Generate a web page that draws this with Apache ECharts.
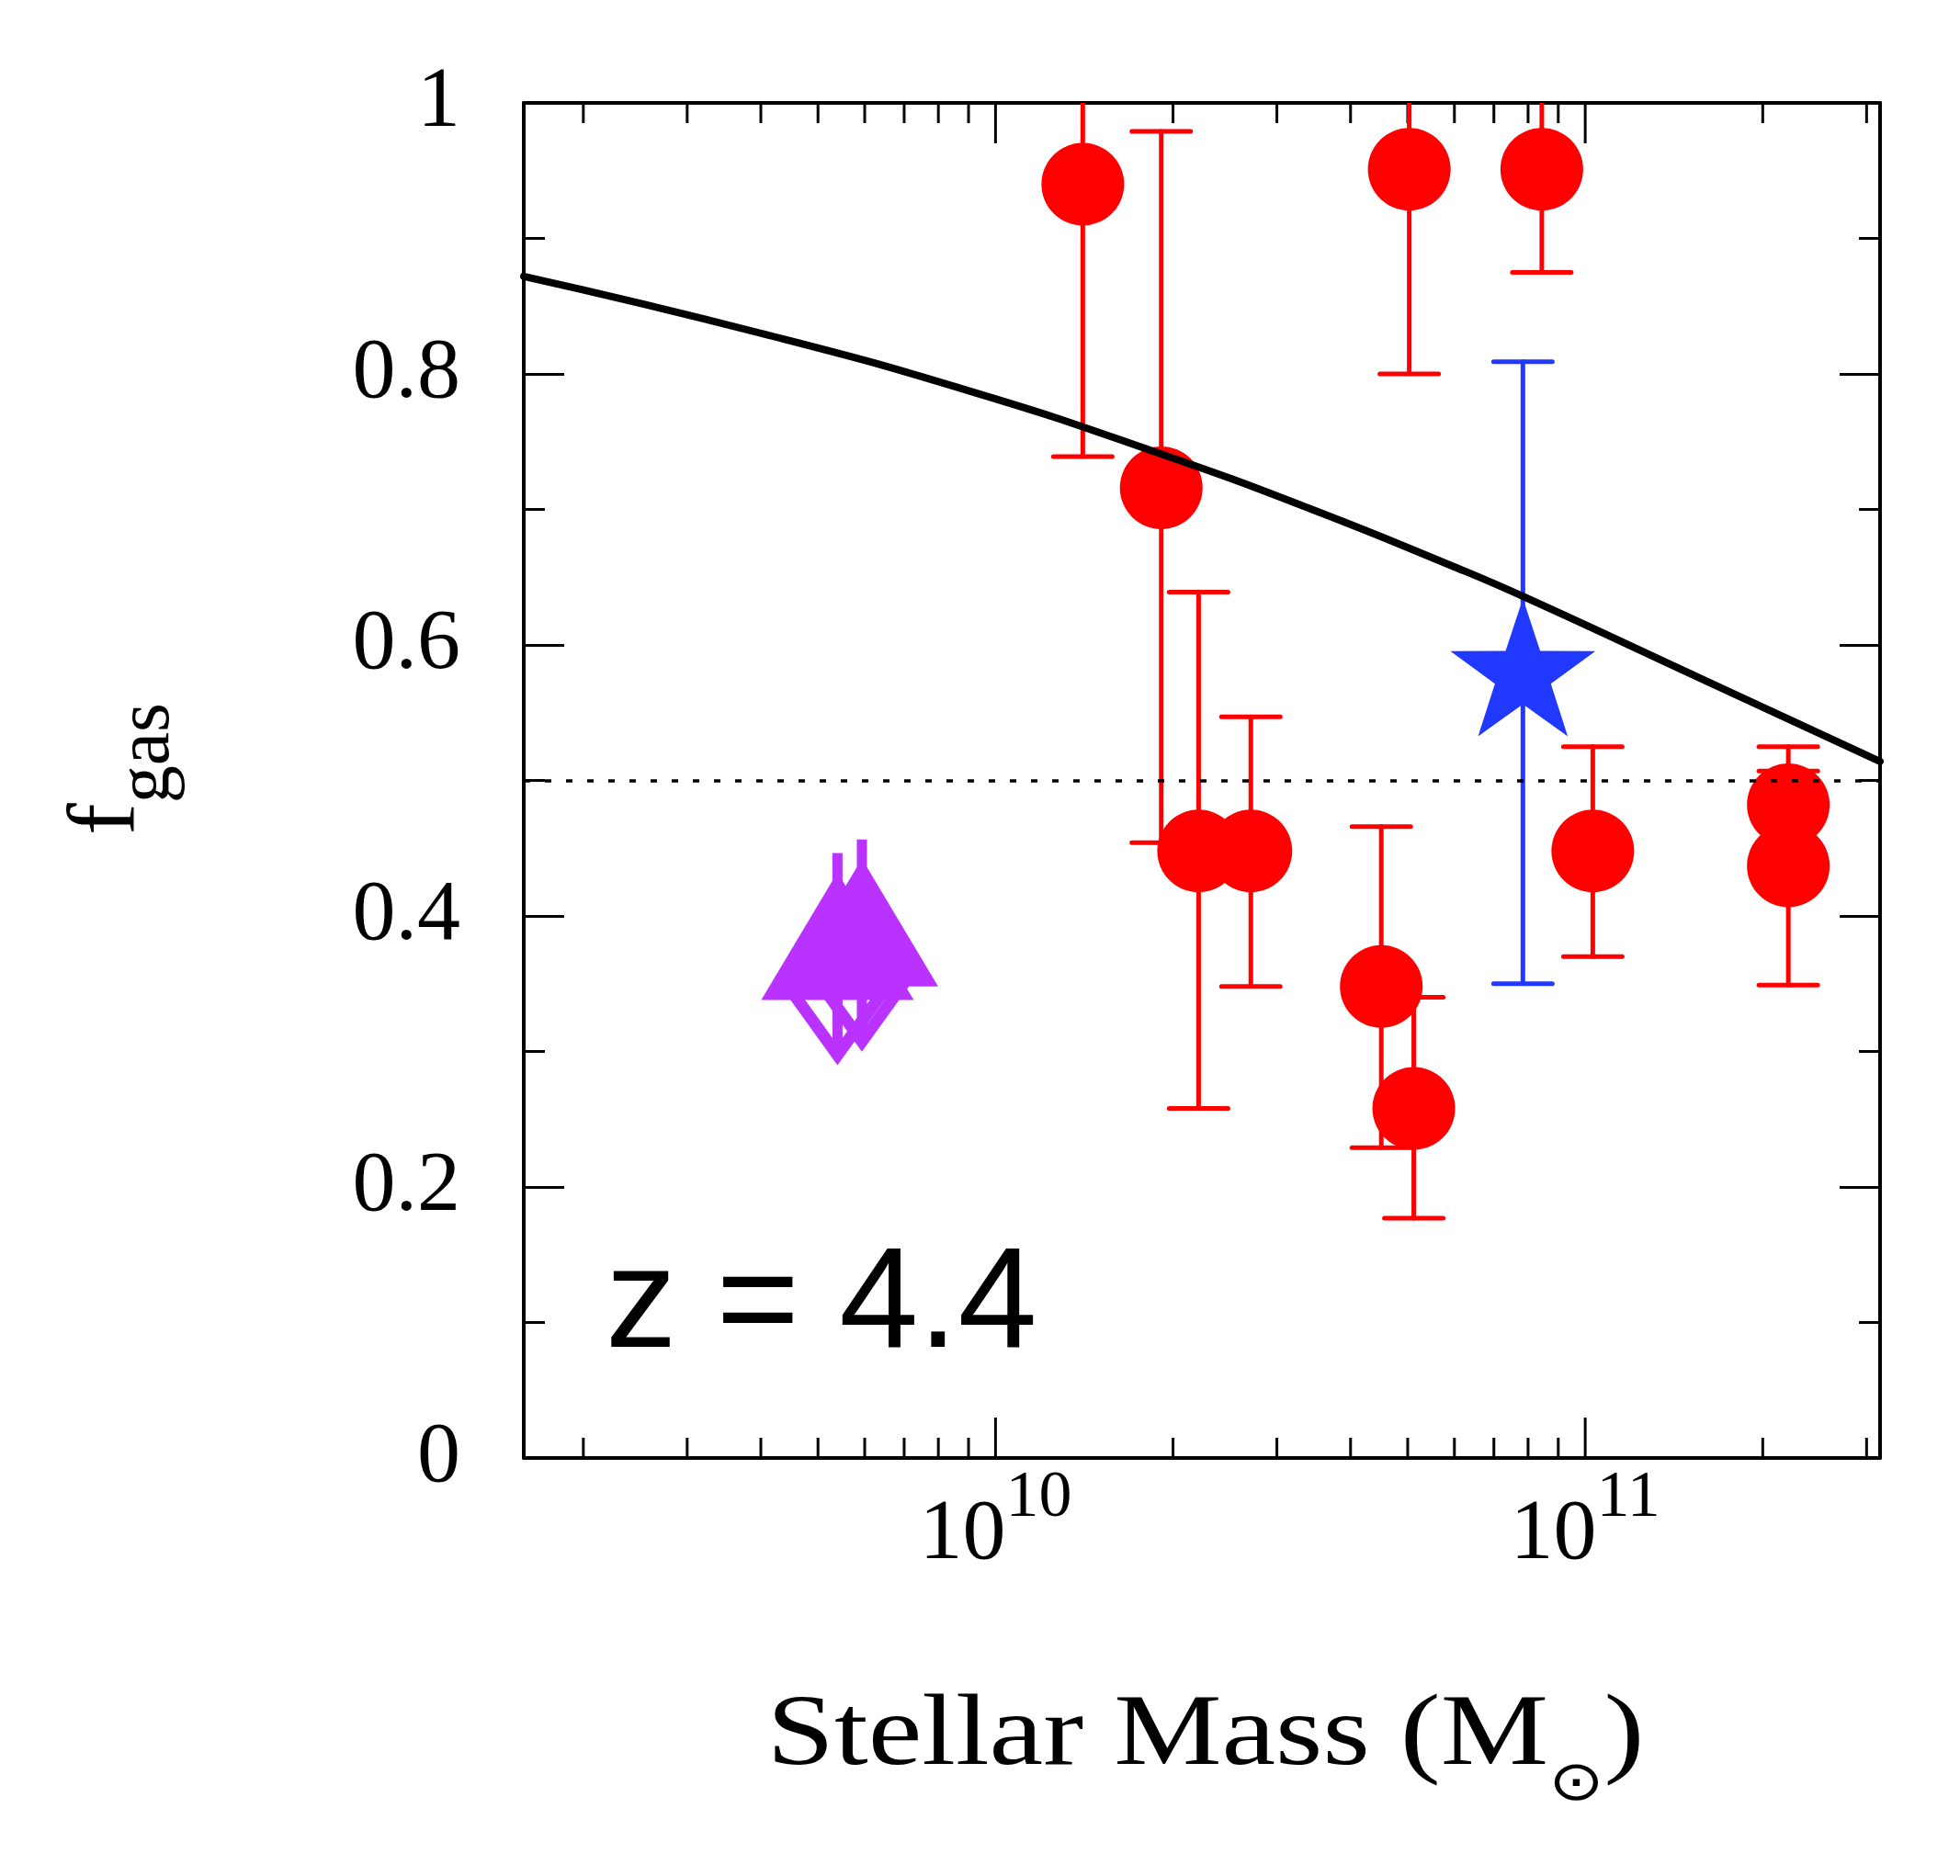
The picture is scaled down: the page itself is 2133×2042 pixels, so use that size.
<!DOCTYPE html>
<html>
<head>
<meta charset="utf-8">
<title>Gas fraction vs stellar mass, z = 4.4</title>
<script src="https://cdn.jsdelivr.net/npm/echarts@6/dist/echarts.min.js"></script>
<style>
  html, body { margin: 0; padding: 0; background: #fff; }
  #chart { width: 2133px; height: 2042px; }
</style>
</head>
<body>
<div id="chart"></div>
<script>
// axis range (log10 M from 9.2 to 11.5)
const xMin = 1.585e9
const xMax = 3.162e11
const xLabelExponents = [10, 11]
const xMajorTicks = [1e10, 1e11]
const xMinorTicks = [2e9, 3e9, 4e9, 5e9, 6e9, 7e9, 8e9, 9e9,
  2e10, 3e10, 4e10, 5e10, 6e10, 7e10, 8e10, 9e10, 2e11, 3e11]
const yTickLabels = ['0', '0.2', '0.4', '0.6', '0.8', '1']
const halfLevel = 0.5

// model curve
const modelMass = [1.585e9, 4.0e9, 9.25e9, 1.905e10, 3.44e10, 5.97e10, 7.83e10, 1.574e11, 3.162e11]
const modelFgas = [0.872, 0.830, 0.786, 0.741, 0.700, 0.658, 0.636, 0.575, 0.514]

// red points (upper values above 1 run off the frame)
const redMass = [1.406e10, 1.91e10, 2.21e10, 2.71e10, 4.51e10, 5.12e10, 5.03e10, 8.44e10, 1.03e11, 2.21e11, 2.21e11]
const redFgas = [0.940, 0.716, 0.448, 0.448, 0.348, 0.258, 0.951, 0.951, 0.448, 0.482, 0.437]
const redLow = [0.739, 0.454, 0.258, 0.348, 0.229, 0.177, 0.800, 0.875, 0.370, 0.455, 0.349]
const redHigh = [1.2, 0.979, 0.639, 0.547, 0.466, 0.340, 1.2, 1.2, 0.525, 0.507, 0.525]

// blue star
const starMass = [7.84e10]
const starFgas = [0.578]
const starLow = [0.350]
const starHigh = [0.809]

// purple limit symbols
const limitMass = [5.395e9, 5.935e9]
const limitFgas = [0.338, 0.348]

const serif = 'Liberation Serif'
const red = '#ff0000'
const blue = '#2138ff'
const purple = '#b932ff'

const chart = echarts.init(document.getElementById('chart'))

function errorBars(color) {
  return function(params, api) {
    const x = api.value(0)
    const lo = api.coord([x, api.value(2)])
    const hi = api.coord([x, api.value(3)])
    const st = { stroke: color, lineWidth: 5, lineCap: 'round' }
    const cap = 32
    return {
      type: 'group',
      children: [
        { type: 'line', shape: { x1: lo[0], y1: lo[1], x2: hi[0], y2: hi[1] }, style: st },
        { type: 'line', shape: { x1: lo[0] - cap, y1: lo[1], x2: lo[0] + cap, y2: lo[1] }, style: st },
        { type: 'line', shape: { x1: hi[0] - cap, y1: hi[1], x2: hi[0] + cap, y2: hi[1] }, style: st }
      ]
    }
  }
}

function xTicks(len) {
  return function(params, api) {
    const v = api.value(0)
    const b = api.coord([v, 0])
    const t = api.coord([v, 1])
    const st = { stroke: '#000', lineWidth: 3 }
    return {
      type: 'group',
      children: [
        { type: 'line', shape: { x1: b[0], y1: b[1], x2: b[0], y2: b[1] - len }, style: st },
        { type: 'line', shape: { x1: t[0], y1: t[1], x2: t[0], y2: t[1] + len }, style: st }
      ]
    }
  }
}

function renderStar(params, api) {
  const c = api.coord([api.value(0), api.value(1)])
  const R = 83
  const r = 32
  const pts = []
  for (let i = 0; i < 10; i++) {
    const a = -Math.PI / 2 + i * Math.PI / 5
    const rad = i % 2 ? r : R
    pts.push([c[0] + rad * Math.cos(a), c[1] + rad * Math.sin(a)])
  }
  return { type: 'polygon', shape: { points: pts }, style: { fill: blue } }
}

// filled triangle, a bar through it and an open arrow head below
function renderLimit(params, api) {
  const p = api.coord([api.value(0), api.value(1)])
  const x = p[0]
  const y = p[1]
  return {
    type: 'group',
    children: [
      { type: 'polygon', shape: { points: [[x - 83, y], [x + 83, y], [x, y - 139]] }, style: { fill: purple } },
      { type: 'rect', shape: { x: x - 5.5, y: y - 160, width: 11, height: 218 }, style: { fill: purple } },
      { type: 'polyline', shape: { points: [[x - 46, y - 4], [x, y + 60], [x + 46, y - 4]] },
        style: { stroke: purple, lineWidth: 13, lineJoin: 'miter', fill: null } }
    ]
  }
}

const frameLine = { show: true, onZero: false, lineStyle: { color: '#000', width: 4 } }

chart.setOption({
  animation: false,
  backgroundColor: '#fff',
  grid: { left: 570, top: 112, width: 1476, height: 1475 },
  xAxis: [{
    type: 'log',
    logBase: 10,
    min: xMin,
    max: xMax,
    position: 'bottom',
    axisLine: frameLine,
    axisTick: { show: false },
    splitLine: { show: false },
    axisLabel: {
      margin: 8,
      color: '#000',
      fontFamily: serif,
      formatter: function(v) {
        const e = Math.log10(v)
        const n = Math.round(e)
        if (Math.abs(e - n) > 1e-6 || xLabelExponents.indexOf(n) < 0) return ''
        return '{b|10}{s|' + n + '}'
      },
      rich: {
        b: { fontFamily: serif, fontSize: 94, lineHeight: 123, verticalAlign: 'bottom', color: '#000' },
        s: { fontFamily: serif, fontSize: 72, lineHeight: 72, verticalAlign: 'top', color: '#000' }
      }
    }
  }, {
    type: 'log',
    logBase: 10,
    min: xMin,
    max: xMax,
    position: 'top',
    axisLine: frameLine,
    axisTick: { show: false },
    axisLabel: { show: false },
    splitLine: { show: false }
  }],
  yAxis: [{
    type: 'value',
    min: 0,
    max: 1,
    interval: 0.2,
    position: 'left',
    axisLine: frameLine,
    axisTick: { inside: true, length: 44, lineStyle: { color: '#000', width: 3 } },
    minorTick: { show: true, splitNumber: 2, length: 23, lineStyle: { color: '#000', width: 3 } },
    splitLine: { show: false },
    minorSplitLine: { show: false },
    axisLabel: {
      margin: 69,
      color: '#000',
      fontFamily: serif,
      fontSize: 94,
      formatter: function(v, i) { return yTickLabels[i] }
    }
  }, {
    type: 'value',
    min: 0,
    max: 1,
    interval: 0.2,
    position: 'right',
    axisLine: frameLine,
    axisTick: { inside: true, length: 44, lineStyle: { color: '#000', width: 3 } },
    minorTick: { show: true, splitNumber: 2, length: 23, lineStyle: { color: '#000', width: 3 } },
    splitLine: { show: false },
    axisLabel: { show: false }
  }],
  graphic: [{
    type: 'text',
    x: 659,
    y: 1423,
    style: { text: 'z = 4.4', font: '155px "Liberation Sans"', fill: '#000', align: 'left', verticalAlign: 'middle' }
  }, {
    type: 'text',
    x: 1312,
    y: 1836,
    scaleX: 1.2,
    style: {
      text: '{m|Stellar Mass (M}{o|\u2299}{m|)}',
      align: 'center',
      verticalAlign: 'top',
      rich: {
        m: { fontFamily: serif, fontSize: 110, lineHeight: 110, verticalAlign: 'top', fill: '#000' },
        o: { fontFamily: 'DejaVu Sans', fontSize: 60, lineHeight: 137, verticalAlign: 'bottom', fill: '#000' }
      }
    }
  }, {
    type: 'text',
    x: 134,
    y: 837,
    rotation: Math.PI / 2,
    style: {
      text: '{f|f}{s|gas}',
      align: 'center',
      verticalAlign: 'middle',
      rich: {
        f: { fontFamily: serif, fontSize: 104, lineHeight: 104, verticalAlign: 'top', fill: '#000' },
        s: { fontFamily: serif, fontSize: 82, lineHeight: 137, verticalAlign: 'bottom', fill: '#000' }
      }
    }
  }],
  series: [{
    type: 'custom',
    name: 'x major ticks',
    renderItem: xTicks(44),
    data: xMajorTicks.map(v => [v, 0]),
    clip: false,
    silent: true,
    z: 1
  }, {
    type: 'custom',
    name: 'x minor ticks',
    renderItem: xTicks(22),
    data: xMinorTicks.map(v => [v, 0]),
    clip: false,
    silent: true,
    z: 1
  }, {
    type: 'custom',
    name: 'red errors',
    renderItem: errorBars(red),
    data: redMass.map((m, i) => [m, redFgas[i], redLow[i], redHigh[i]]),
    clip: true,
    z: 2
  }, {
    type: 'scatter',
    name: 'red points',
    symbol: 'circle',
    symbolSize: 90,
    itemStyle: { color: red, opacity: 1 },
    data: redMass.map((m, i) => [m, redFgas[i]]),
    z: 3
  }, {
    type: 'custom',
    name: 'star errors',
    renderItem: errorBars(blue),
    data: starMass.map((m, i) => [m, starFgas[i], starLow[i], starHigh[i]]),
    clip: true,
    z: 4
  }, {
    type: 'custom',
    name: 'star',
    renderItem: renderStar,
    data: starMass.map((m, i) => [m, starFgas[i]]),
    z: 5
  }, {
    type: 'custom',
    name: 'limits',
    renderItem: renderLimit,
    data: limitMass.map((m, i) => [m, limitFgas[i]]),
    z: 5
  }, {
    type: 'line',
    name: 'model',
    smooth: 0.5,
    showSymbol: false,
    symbol: 'none',
    lineStyle: { color: '#000', width: 8, cap: 'round' },
    data: modelMass.map((m, i) => [m, modelFgas[i]]),
    markLine: {
      silent: true,
      symbol: ['none', 'none'],
      label: { show: false },
      lineStyle: { color: '#000', width: 3.5, type: [7, 16] },
      data: [{ yAxis: halfLevel }]
    },
    z: 6
  }]
})
</script>
</body>
</html>
